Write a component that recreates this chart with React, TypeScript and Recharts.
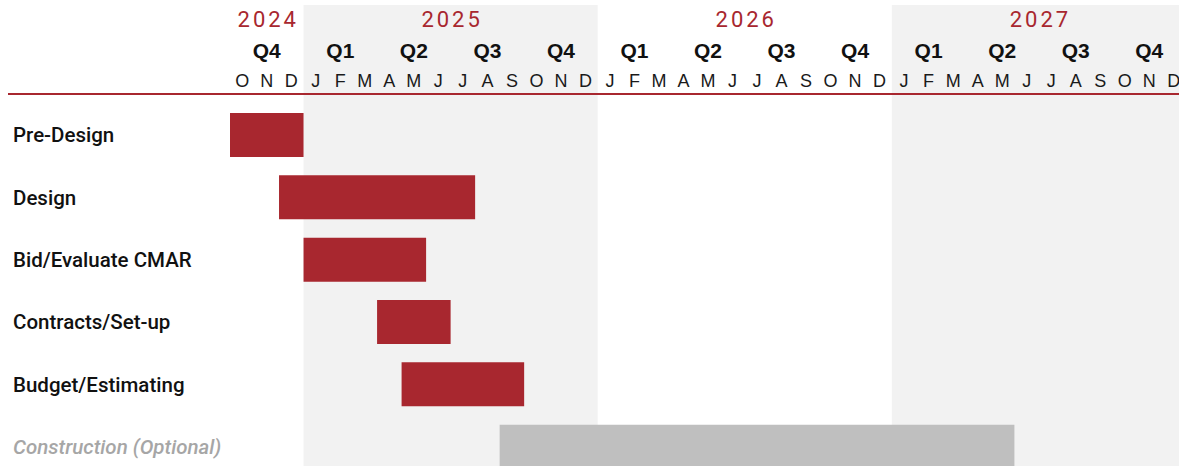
import React from 'react';
import { BarChart, Bar, XAxis, YAxis, ReferenceArea, Cell } from 'recharts';

// Timeline: month index 0 = October 2024
const tasks = [
  'Pre-Design',
  'Design',
  'Bid/Evaluate CMAR',
  'Contracts/Set-up',
  'Budget/Estimating',
  'Construction (Optional)',
];
const startMonths = [0, 2, 3, 6, 7, 11];
const endMonths = [3, 10, 8, 9, 12, 32];
const optionalFlags = [false, false, false, false, false, true];

const monthLabels = [
  'O', 'N', 'D',
  'J', 'F', 'M', 'A', 'M', 'J', 'J', 'A', 'S', 'O', 'N', 'D',
  'J', 'F', 'M', 'A', 'M', 'J', 'J', 'A', 'S', 'O', 'N', 'D',
  'J', 'F', 'M', 'A', 'M', 'J', 'J', 'A', 'S', 'O', 'N', 'D',
];
const quarterLabels = ['Q4', 'Q1', 'Q2', 'Q3', 'Q4', 'Q1', 'Q2', 'Q3', 'Q4', 'Q1', 'Q2', 'Q3', 'Q4'];
const yearLabels = ['2024', '2025', '2026', '2027'];
const yearStarts = [0, 3, 15, 27];
const yearEnds = [3, 15, 27, 39];
const shadedYears = ['2025', '2027'];

const RED = '#A8272F';
const GREY_BAR = '#BFBFBF';
const SHADE = '#F2F2F2';
const FONT = '"Liberation Sans", Arial, sans-serif';
const LABEL_FONT = 'Roboto, "Liberation Sans", Arial, sans-serif';

const YEAR_H = 28;
const QUARTER_H = 31;
const MONTH_H = 30;
const ROW_PAD_TOP = 10;
const HEADER_H = YEAR_H + QUARTER_H + MONTH_H + ROW_PAD_TOP;

const totalMonths = monthLabels.length;
const monthTicks = monthLabels.map((_, i) => i + 0.5);
const quarterTicks = quarterLabels.map((_, i) => i * 3 + 1.5);
const yearTicks = yearLabels.map((_, i) => (yearStarts[i] + yearEnds[i]) / 2);

const rows = tasks.map((task, i) => ({
  task,
  span: [startMonths[i], endMonths[i]],
  optional: optionalFlags[i],
}));

const makeTick = (labels: string[], ticks: number[], style: any, dy: number, dx = 0) => (props: any) => {
  const { x, y, payload } = props;
  const idx = ticks.indexOf(payload.value);
  return (
    <text x={x + dx} y={y + dy} textAnchor="middle" {...style}>
      {labels[idx]}
    </text>
  );
};

const MonthTick = makeTick(monthLabels, monthTicks, { fontFamily: FONT, fontSize: 18, fill: '#1a1a1a' }, -7);
const QuarterTick = makeTick(quarterLabels, quarterTicks, { fontFamily: FONT, fontSize: 21, fontWeight: 700, fill: '#111' }, -6);
const YearTick = makeTick(
  yearLabels,
  yearTicks,
  { fontFamily: LABEL_FONT, fontSize: 22, fontWeight: 400, fill: RED, letterSpacing: 3 },
  -6,
  1.5
);

const RowTick = (props: any) => {
  const { x, y, payload } = props;
  const i = tasks.indexOf(payload.value);
  const opt = optionalFlags[i];
  return (
    <text
      x={x + 5}
      y={y}
      dy="0.35em"
      textAnchor="start"
      fontFamily={LABEL_FONT}
      fontSize={20.5}
      fontWeight={500}
      fontStyle={opt ? 'italic' : 'normal'}
      fill={opt ? '#A6A6A6' : '#111'}
    >
      {payload.value}
    </text>
  );
};

const ShadeShape = (p: any) => (
  <rect x={p.x} y={p.y - HEADER_H} width={p.width} height={p.height + HEADER_H} fill={SHADE} />
);

export default function App() {
  return (
    <div style={{ position: 'absolute', left: 0, top: 0, width: 1179, height: 466, overflow: 'hidden', background: '#fff' }}>
      <BarChart
        width={1186}
        height={478}
        data={rows}
        layout="vertical"
        margin={{ top: 5, right: 0, bottom: 0, left: 7 }}
      >
        {shadedYears.map((yr) => {
          const i = yearLabels.indexOf(yr);
          return (
            <ReferenceArea
              key={yr}
              xAxisId="m"
              x1={yearStarts[i]}
              x2={yearEnds[i]}
              shape={ShadeShape}
            />
          );
        })}
        <XAxis
          xAxisId="m"
          type="number"
          orientation="top"
          domain={[0, totalMonths]}
          ticks={monthTicks}
          interval={0}
          height={MONTH_H}
          padding={{ left: 222, right: 0 }}
          tickLine={false}
          tickSize={0}
          tickMargin={0}
          axisLine={{ stroke: RED, strokeWidth: 2 }}
          tick={MonthTick}
          allowDataOverflow
        />
        <XAxis
          xAxisId="q"
          type="number"
          orientation="top"
          domain={[0, totalMonths]}
          ticks={quarterTicks}
          interval={0}
          height={QUARTER_H}
          padding={{ left: 222, right: 0 }}
          tickLine={false}
          tickSize={0}
          tickMargin={0}
          axisLine={false}
          tick={QuarterTick}
          allowDataOverflow
        />
        <XAxis
          xAxisId="y"
          type="number"
          orientation="top"
          domain={[0, totalMonths]}
          ticks={yearTicks}
          interval={0}
          height={YEAR_H}
          padding={{ left: 222, right: 0 }}
          tickLine={false}
          tickSize={0}
          tickMargin={0}
          axisLine={false}
          tick={YearTick}
          allowDataOverflow
        />
        <YAxis
          type="category"
          dataKey="task"
          width={1}
          padding={{ top: ROW_PAD_TOP, bottom: 0 }}
          tickLine={false}
          tickSize={0}
          tickMargin={0}
          axisLine={false}
          tick={RowTick}
          interval={0}
        />
        <Bar dataKey="span" xAxisId="m" barSize={44} isAnimationActive={false}>
          {rows.map((r) => (
            <Cell key={r.task} fill={r.optional ? GREY_BAR : RED} />
          ))}
        </Bar>
      </BarChart>
    </div>
  );
}
